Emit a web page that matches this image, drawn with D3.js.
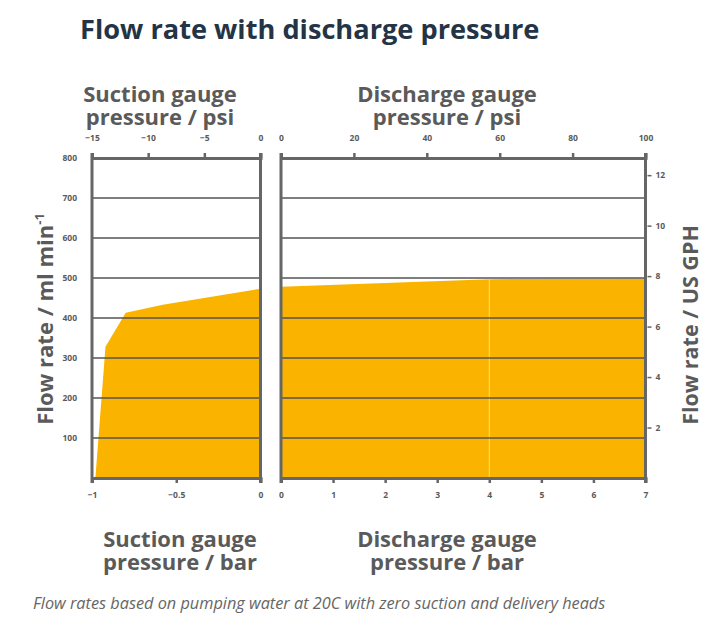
<!DOCTYPE html>
<html>
<head>
<meta charset="utf-8">
<script src="https://cdn.jsdelivr.net/npm/d3@7"></script>
<style>
  body { margin: 0; background: #fff; }
  svg { display: block; }
  text { font-family: "Open Sans", "Noto Sans", sans-serif; }
</style>
</head>
<body>
<svg id="chart" width="716" height="619"></svg>
<script>
// ---- Data ----
const suctionBar = [-0.98, -0.92, -0.80, -0.58, 0];
const suctionFlow = [0, 328, 413, 433, 473];
const dischargeBarA = [0, 4];
const dischargeFlowA = [478, 497];
const dischargeBarB = [4, 7];
const dischargeFlowB = [497, 499];
const flowTicks = [100, 200, 300, 400, 500, 600, 700, 800];
const gridTicks = [100, 200, 300, 400, 500, 600, 700];
const suctionBarTicks = [-1, -0.5, 0];
const suctionPsiTicks = [-15, -10, -5, 0];
const dischargeBarTicks = [0, 1, 2, 3, 4, 5, 6, 7];
const dischargePsiTicks = [0, 20, 40, 60, 80, 100];
const gphTicks = [2, 4, 6, 8, 10, 12];
const mlPerGph = 3785.41 / 60;

const title = "Flow rate with discharge pressure";
const footnote = "Flow rates based on pumping water at 20C with zero suction and delivery heads";

// ---- Layout ----
const svg = d3.select("#chart");
const yTop = 158, yBot = 478;
const L = { x0: 92, x1: 260.5 };
const R = { x0: 281, x1: 645.5 };
const fill = "#FAB400";
const frame = "#666666";
const gridC = "#555555";
const textC = "#5a5a5a";

const y = d3.scaleLinear().domain([0, 800]).range([yBot, yTop]);
const yG = d3.scaleLinear().domain([0, 800 / mlPerGph]).range([yBot, yTop]);
const xLb = d3.scaleLinear().domain([-1, 0]).range([L.x0, L.x1]);
const xLp = d3.scaleLinear().domain([-15, 0]).range([L.x0, L.x1]);
const xRb = d3.scaleLinear().domain([0, 7]).range([R.x0, R.x1]);
const xRp = d3.scaleLinear().domain([0, 100]).range([R.x0, R.x1]);

// Title
svg.append("text").attr("x", 80).attr("y", 38.5)
  .attr("font-size", 27.2).attr("font-weight", 700).attr("fill", "#243447")
  .text(title);

// Areas
function area(xs) {
  return d3.area().x(d => xs(d[0])).y0(yBot).y1(d => y(d[1]));
}
svg.append("path").datum(d3.zip(suctionBar, suctionFlow))
  .attr("d", area(xLb)).attr("fill", fill);
svg.append("path").datum(d3.zip(dischargeBarA, dischargeFlowA))
  .attr("d", area(xRb)).attr("fill", fill);
svg.append("path").datum(d3.zip(dischargeBarB, dischargeFlowB))
  .attr("d", area(xRb)).attr("fill", fill);
// faint seam between the two discharge segments
svg.append("line").attr("x1", xRb(4)).attr("x2", xRb(4))
  .attr("y1", y(497)).attr("y2", yBot)
  .attr("stroke", "#ffd86a").attr("stroke-width", 1);

// Grid lines
[L, R].forEach(p => {
  svg.append("g").selectAll("line").data(gridTicks).join("line")
    .attr("x1", p.x0).attr("x2", p.x1)
    .attr("y1", d => y(d)).attr("y2", d => y(d))
    .attr("stroke", gridC).attr("stroke-width", 1.6);
});

function styleAxis(g, fs) {
  g.selectAll(".domain").attr("stroke", frame).attr("stroke-width", 3);
  g.selectAll(".tick line").attr("stroke", frame).attr("stroke-width", 2.5);
  g.selectAll(".tick text").attr("fill", textC).attr("font-size", fs || 8.5)
    .attr("font-weight", 700).attr("font-family", "'Open Sans', sans-serif");
}

// Top axes (psi)
svg.append("g").attr("transform", `translate(0,${yTop})`)
  .call(d3.axisTop(xLp).tickValues(suctionPsiTicks).tickSize(5).tickSizeOuter(5).tickPadding(12).tickFormat(d3.format("d")))
  .call(g => styleAxis(g));
svg.append("g").attr("transform", `translate(0,${yTop})`)
  .call(d3.axisTop(xRp).tickValues(dischargePsiTicks).tickSize(5).tickSizeOuter(5).tickPadding(12).tickFormat(d3.format("d")))
  .call(g => styleAxis(g));

// Bottom axes (bar)
svg.append("g").attr("transform", `translate(0,${yBot})`)
  .call(d3.axisBottom(xLb).tickValues(suctionBarTicks).tickSize(5).tickSizeOuter(5).tickPadding(9).tickFormat(d => d === 0 ? "0" : d3.format("")(d)))
  .call(g => styleAxis(g));
svg.append("g").attr("transform", `translate(0,${yBot})`)
  .call(d3.axisBottom(xRb).tickValues(dischargeBarTicks).tickSize(5).tickSizeOuter(5).tickPadding(9).tickFormat(d3.format("d")))
  .call(g => styleAxis(g));

// Panel side borders
[L.x0, L.x1, R.x0, R.x1].forEach(x => {
  svg.append("line").attr("x1", x).attr("x2", x).attr("y1", yTop - 5).attr("y2", yBot + 5)
    .attr("stroke", frame).attr("stroke-width", 3);
});

// Left flow axis (labels only)
svg.append("g").attr("transform", `translate(${L.x0},0)`)
  .call(d3.axisLeft(y).tickValues(flowTicks).tickSize(0).tickPadding(15).tickFormat(d3.format("d")))
  .call(g => { g.select(".domain").remove(); styleAxis(g); });

// Right GPH axis
svg.append("g").attr("transform", `translate(${R.x1},0)`)
  .call(d3.axisRight(yG).tickValues(gphTicks).tickSize(6).tickPadding(4).tickFormat(d3.format("d")))
  .call(g => { g.select(".domain").remove(); styleAxis(g); g.selectAll(".tick line").attr("stroke-width", 1.5).attr("x1", 2); });

// Axis titles
function twoLine(x, y0, l1, l2) {
  const t = svg.append("text").attr("text-anchor", "middle").attr("font-size", 22)
    .attr("font-weight", 700).attr("fill", textC);
  t.append("tspan").attr("x", x).attr("y", y0).text(l1);
  t.append("tspan").attr("x", x).attr("y", y0 + 23).text(l2);
}
twoLine(160, 102, "Suction gauge", "pressure / psi");
twoLine(447, 102, "Discharge gauge", "pressure / psi");
twoLine(180, 547, "Suction gauge", "pressure / bar");
twoLine(447, 547, "Discharge gauge", "pressure / bar");

// Left vertical title with superscript
const lt = svg.append("text").attr("transform", "translate(53,319) rotate(-90)")
  .attr("text-anchor", "middle").attr("font-size", 22).attr("font-weight", 700).attr("fill", textC);
lt.append("tspan").text("Flow rate / ml min");
lt.append("tspan").attr("font-size", 13).attr("dy", -9).text("-1");

svg.append("text").attr("transform", "translate(698,325) rotate(-90)")
  .attr("text-anchor", "middle").attr("font-size", 21.5).attr("font-weight", 700).attr("fill", textC)
  .text("Flow rate / US GPH");

// Footnote
svg.append("text").attr("x", 33).attr("y", 609)
  .attr("font-size", 16.3).attr("font-style", "italic").attr("fill", "#666")
  .text(footnote);
</script>
</body>
</html>
